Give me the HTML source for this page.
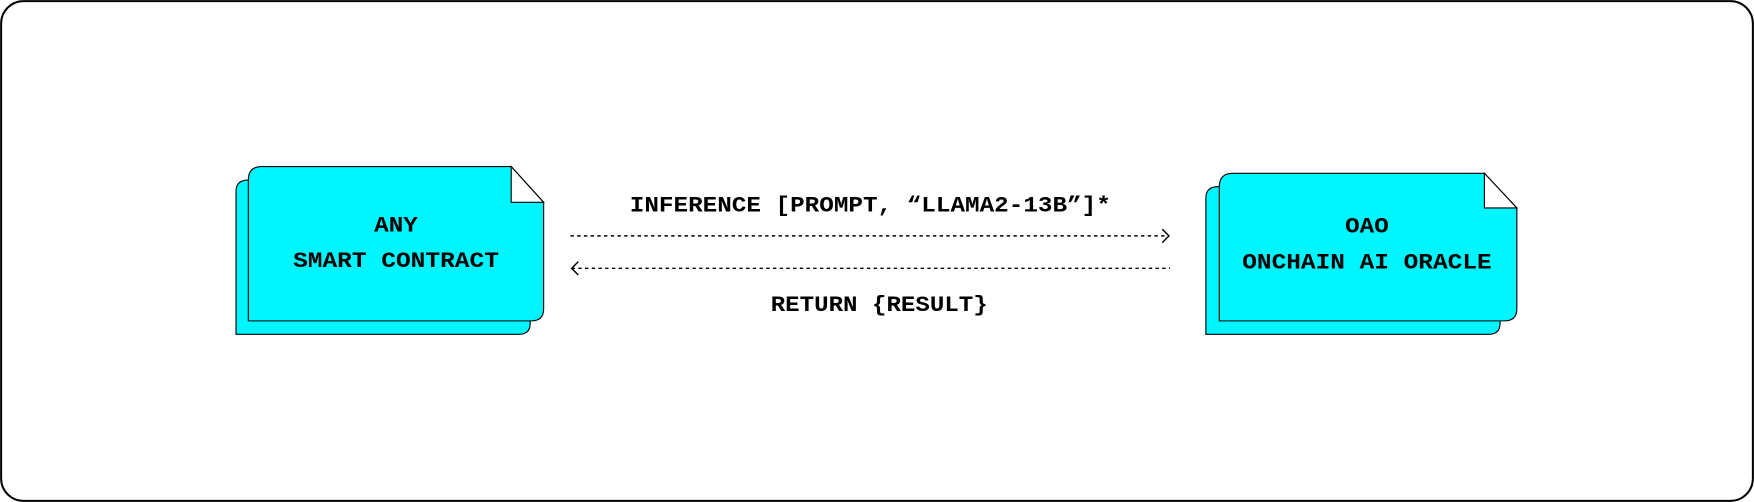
<!DOCTYPE html>
<html><head><meta charset="utf-8"><style>
html,body{margin:0;padding:0;background:#fff;}
svg{display:block;}
text{font-family:"Liberation Mono","DejaVu Sans Mono",monospace;font-weight:bold;fill:#000;}
</style></head><body>
<svg width="1754" height="502" viewBox="0 0 1568 449" preserveAspectRatio="none" xmlns="http://www.w3.org/2000/svg">
<rect x="1" y="1" width="1566" height="447" rx="20" fill="#fff" stroke="#000" stroke-width="1.8"/>
<!-- left node -->
<path d="M222,161 H450 V200 H474 V289 Q474,299 464,299 H211 V171 Q211,161 222,161 Z" fill="#00f5ff" stroke="#000" stroke-width="1"/>
<path d="M234,149 H457 L486,181 V276 Q486,287 475,287 H222 V161 Q222,149 234,149 Z" fill="#00f5ff" stroke="#000" stroke-width="1"/>
<path d="M457,149 V181 H486 Z" fill="#fff" stroke="#000" stroke-width="1"/>
<text x="354" y="207" font-size="20" text-anchor="middle" textLength="39" lengthAdjust="spacingAndGlyphs">ANY</text>
<text x="354" y="239" font-size="20" text-anchor="middle" textLength="184" lengthAdjust="spacingAndGlyphs">SMART CONTRACT</text>
<!-- right node -->
<path d="M1089,167 H1320 V205 H1341 V289 Q1341,299 1331,299 H1078 V177 Q1078,167 1089,167 Z" fill="#00f5ff" stroke="#000" stroke-width="1"/>
<path d="M1102,155 H1327 L1356,186 V276 Q1356,287 1345,287 H1090 V167 Q1090,155 1102,155 Z" fill="#00f5ff" stroke="#000" stroke-width="1"/>
<path d="M1327,155 V186 H1356 Z" fill="#fff" stroke="#000" stroke-width="1"/>
<text x="1222" y="208" font-size="20" text-anchor="middle" textLength="39" lengthAdjust="spacingAndGlyphs">OAO</text>
<text x="1222" y="240" font-size="20" text-anchor="middle" textLength="223" lengthAdjust="spacingAndGlyphs">ONCHAIN AI ORACLE</text>
<!-- arrows -->
<line x1="510" y1="211" x2="1045" y2="211" stroke="#000" stroke-width="1.3" stroke-dasharray="3,3"/>
<path d="M1039,205 L1045,211 L1039,217" fill="none" stroke="#000" stroke-width="1.3"/>
<line x1="511" y1="240" x2="1046" y2="240" stroke="#000" stroke-width="1.3" stroke-dasharray="3,3"/>
<path d="M517,234 L511,240 L517,246" fill="none" stroke="#000" stroke-width="1.3"/>
<text x="778" y="189" font-size="20" text-anchor="middle" textLength="430" lengthAdjust="spacingAndGlyphs">INFERENCE [PROMPT, “LLAMA2-13B”]*</text>
<text x="786" y="278" font-size="20" text-anchor="middle" textLength="194" lengthAdjust="spacingAndGlyphs">RETURN {RESULT}</text>
</svg>
</body></html>
